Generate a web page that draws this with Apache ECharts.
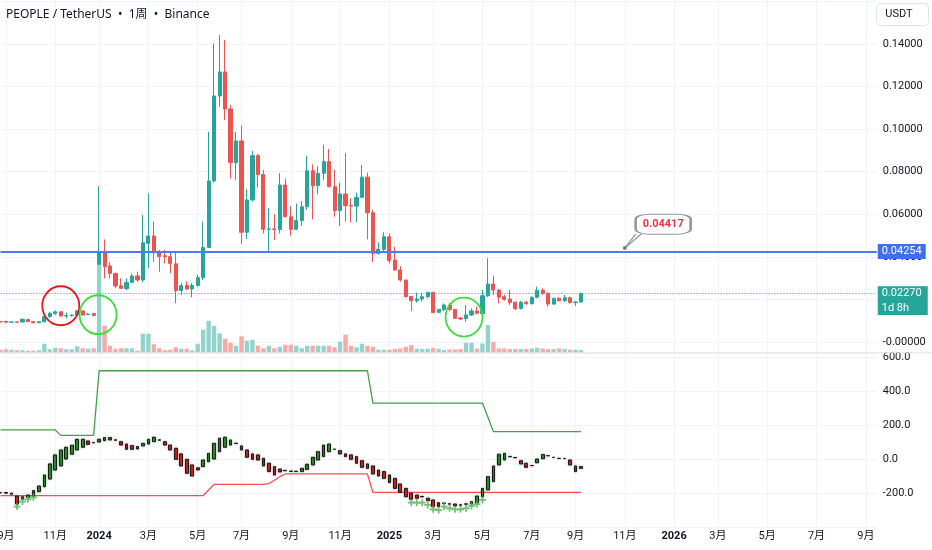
<!DOCTYPE html>
<html><head><meta charset="utf-8">
<script src="https://cdn.jsdelivr.net/npm/echarts/dist/echarts.min.js"></script>
<style>html,body{margin:0;padding:0;background:#fff}#c{width:932px;height:550px}</style>
</head><body><div id="c"></div>
<script>
// ---------- data ----------
const weekCount = 161; // weekly categories starting Monday 2023-08-28
const categories = [];
for (let i = 0; i < weekCount; i++) {
  categories.push(new Date(Date.UTC(2023, 7, 28 + 7 * i)).toISOString().slice(0, 10));
}
const priceOpen = [0.0096,0.0097,0.0093,0.0094,0.0094,0.0106,0.0096,0.0090,0.0095,0.0119,
0.0133,0.0142,0.0122,0.0124,0.0127,0.0146,0.0129,0.0134,0.0125,0.0424,
0.0357,0.0322,0.0264,0.0250,0.0280,0.0310,0.0291,0.0463,0.0498,0.0419,
0.0405,0.0401,0.0367,0.0241,0.0265,0.0249,0.0265,0.0302,0.0444,0.0756,
0.1155,0.1268,0.1094,0.0842,0.0944,0.0515,0.0667,0.0875,0.0786,0.0529,
0.0531,0.0528,0.0737,0.0588,0.0529,0.0570,0.0635,0.0804,0.0734,0.0792,
0.0847,0.0729,0.0617,0.0695,0.0641,0.0638,0.0679,0.0774,0.0607,0.0416,
0.0435,0.0494,0.0385,0.0338,0.0291,0.0214,0.0194,0.0202,0.0213,0.0233,
0.0139,0.0153,0.0174,0.0153,0.0113,0.0110,0.0127,0.0146,0.0133,0.0217,
0.0272,0.0244,0.0213,0.0202,0.0187,0.0157,0.0187,0.0180,0.0210,0.0243,
0.0229,0.0178,0.0205,0.0194,0.0208,0.0185,0.0188];
const priceClose = [0.0095,0.0093,0.0094,0.0093,0.0107,0.0096,0.0090,0.0095,0.0119,0.0135,
0.0142,0.0122,0.0125,0.0126,0.0146,0.0127,0.0131,0.0125,0.0424,0.0354,
0.0322,0.0263,0.0252,0.0280,0.0310,0.0291,0.0466,0.0498,0.0419,0.0401,
0.0401,0.0369,0.0241,0.0265,0.0249,0.0265,0.0302,0.0444,0.0756,0.1155,
0.1268,0.1094,0.0842,0.0944,0.0515,0.0667,0.0875,0.0786,0.0529,0.0531,
0.0528,0.0737,0.0588,0.0529,0.0570,0.0635,0.0804,0.0734,0.0792,0.0847,
0.0729,0.0617,0.0695,0.0640,0.0638,0.0679,0.0774,0.0607,0.0416,0.0435,
0.0494,0.0382,0.0338,0.0291,0.0213,0.0194,0.0202,0.0213,0.0233,0.0138,
0.0153,0.0174,0.0153,0.0111,0.0108,0.0127,0.0146,0.0135,0.0217,0.0272,
0.0244,0.0210,0.0200,0.0185,0.0157,0.0187,0.0180,0.0210,0.0243,0.0229,
0.0178,0.0205,0.0194,0.0208,0.0185,0.0188,0.0227];
const priceLow = [0.0093,0.0091,0.0091,0.0091,0.0092,0.0094,0.0088,0.0089,0.0093,0.0114,
0.0128,0.0120,0.0111,0.0119,0.0125,0.0124,0.0127,0.0119,0.0113,0.0299,
0.0299,0.0252,0.0249,0.0244,0.0276,0.0284,0.0280,0.0346,0.0377,0.0330,
0.0369,0.0322,0.0182,0.0221,0.0244,0.0210,0.0260,0.0291,0.0440,0.0749,
0.1105,0.1042,0.0768,0.0761,0.0460,0.0484,0.0659,0.0726,0.0510,0.0428,
0.0479,0.0510,0.0585,0.0500,0.0525,0.0545,0.0620,0.0576,0.0693,0.0761,
0.0727,0.0588,0.0545,0.0565,0.0561,0.0563,0.0675,0.0482,0.0374,0.0411,
0.0425,0.0369,0.0335,0.0283,0.0208,0.0146,0.0185,0.0190,0.0205,0.0135,
0.0137,0.0145,0.0145,0.0108,0.0103,0.0095,0.0122,0.0130,0.0130,0.0211,
0.0221,0.0181,0.0194,0.0174,0.0150,0.0153,0.0175,0.0176,0.0205,0.0222,
0.0166,0.0175,0.0190,0.0188,0.0180,0.0169,0.0185];
const priceHigh = [0.0098,0.0099,0.0096,0.0096,0.0109,0.0108,0.0097,0.0097,0.0121,0.0142,
0.0148,0.0145,0.0138,0.0131,0.0150,0.0148,0.0136,0.0135,0.0732,0.0482,
0.0374,0.0325,0.0299,0.0299,0.0322,0.0330,0.0596,0.0698,0.0565,0.0432,
0.0432,0.0419,0.0419,0.0277,0.0285,0.0277,0.0315,0.0565,0.0987,0.1402,
0.1441,0.1418,0.1113,0.0987,0.1016,0.0717,0.0897,0.0883,0.0808,0.0628,
0.0600,0.0793,0.0768,0.0638,0.0650,0.0662,0.0873,0.0834,0.0826,0.0925,
0.0906,0.0808,0.0748,0.0886,0.0675,0.0701,0.0831,0.0795,0.0620,0.0468,
0.0515,0.0510,0.0447,0.0357,0.0293,0.0215,0.0232,0.0230,0.0235,0.0235,
0.0155,0.0181,0.0183,0.0155,0.0117,0.0174,0.0158,0.0166,0.0244,0.0393,
0.0311,0.0247,0.0221,0.0244,0.0190,0.0192,0.0192,0.0214,0.0260,0.0252,
0.0233,0.0208,0.0210,0.0221,0.0213,0.0192,0.0232];
const volume = [3,3.5,3,2.5,2.5,2,2,2.5,9,3.5,
5,4.5,3.5,3.5,6.5,4.5,4,4.5,88,27,
7,4,4.5,4.5,4.5,2,19,19,8.5,4.5,
2.5,3,5.5,4,4,2.5,9,23,32,27,
19.5,14,10,7,16.5,12,13,7,4.5,7,
4.5,6,8,8,7,4.5,7,7,7,7,
7,5.5,11,18,7,5.5,9,7,6,3,
3,3,3.7,4.3,6,7.7,4,3.7,4,4.7,
4,2.7,3.3,3.3,3.7,10,10,4.3,9.3,27.7,
11,4.3,4.3,3.7,3.7,3.7,3.7,4.3,5,4.3,
3.7,3.7,4.3,3.7,3,3,2.7];
const oscOpen = [-199,-197,-201,-218,-237,-225,-218,-192,-163,-118,
-65,-41,0,28,53,69,106,97,100,108,
112,113,102,88,79,73,77,88,102,113,
102,82,63,30,-2,-35,-52,-45,-16,0,
43,69,82,93,77,53,30,24,4,-25,
-45,-59,-67,-71,-72,-74,-61,-35,-6,14,
43,58,49,30,24,14,-10,-29,-41,-65,
-74,-94,-114,-147,-173,-202,-212,-220,-231,-241,
-257,-259,-263,-265,-269,-266,-265,-257,-222,-182,
-133,-35,-6,15,9,-10,-25,-38,-22,2,
20,10,4,3,-6,-41,-45];
const oscClose = [-197,-201,-207,-265,-222,-212,-186,-159,-94,-29,
24,53,69,81,116,116,86,95,116,126,
126,110,82,57,57,59,92,116,128,110,
82,53,-2,-41,-84,-100,-64,-6,33,92,
122,128,112,91,53,10,-2,-6,-41,-74,
-94,-76,-69,-73,-74,-55,-31,10,43,82,
88,57,30,14,-2,-25,-49,-55,-88,-100,
-114,-139,-173,-196,-222,-237,-231,-223,-245,-280,
-280,-262,-266,-276,-272,-264,-251,-218,-173,-104,
-41,28,33,13,7,-29,-49,-39,0,26,
19,9,3,2,-35,-74,-55];
const upperBand = [171,171,171,171,171,171,171,171,171,171,
171,139,139,139,139,139,139,139,519,519,
519,519,519,519,519,519,519,519,519,519,
519,519,519,519,519,519,519,519,519,519,
519,519,519,519,519,519,519,519,519,519,
519,519,519,519,519,519,519,519,519,519,
519,519,519,519,519,519,519,519,329,329,
329,329,329,329,329,329,329,329,329,329,
329,329,329,329,329,329,329,329,329,245,
161,161,161,161,161,161,161,161,161,161,
161,161,161,161,161,161,161];
const lowerBand = [-216,-216,-216,-216,-216,-216,-216,-216,-216,-216,
-216,-216,-216,-216,-216,-216,-216,-216,-216,-216,
-216,-216,-216,-216,-216,-216,-216,-216,-216,-216,
-216,-216,-216,-216,-216,-216,-216,-216,-182,-149,
-149,-149,-149,-149,-149,-149,-149,-149,-149,-145,
-125,-104,-88,-88,-88,-88,-88,-88,-88,-88,
-88,-88,-88,-88,-88,-88,-88,-88,-196,-196,
-196,-196,-196,-196,-196,-196,-196,-196,-196,-196,
-196,-196,-196,-196,-196,-196,-196,-196,-196,-196,
-196,-196,-196,-196,-196,-196,-196,-196,-196,-196,
-196,-196,-196,-196,-196,-196,-196];
const plusIdx = [3,4,5,6,75,76,77,78,79,80,81,82,83,84,85,86,87,88];
const plusVal = [-280,-251,-237,-225,-257,-257,-257,-270,-296,-300,-280,-290,-296,-296,-290,-276,-265,-241];
const keyLevel = 0.04254;
const lastPrice = 0.02270;
const countdownText = '1d 8h';
const calloutValue = 0.04417;
const priceTicks = { min: 0, max: 0.16, step: 0.02 };
const oscTicks = { min: -400, max: 625, step: 200 };

// ---------- chart ----------
const FONT = 'Roboto, "Noto Sans CJK SC", sans-serif';
const TXT = '#131722';
const GRIDC = '#f0f3fa';
const priceData = priceOpen.map((o, i) => [o, priceClose[i], priceLow[i], priceHigh[i]]);
const volData = volume.map((v, i) => ({ value: v, itemStyle: { color: priceClose[i] >= priceOpen[i] ? '#93d3cd' : '#f7aaa8' } }));
const oscData = oscOpen.map((o, i) => [o, oscClose[i], Math.min(o, oscClose[i]), Math.max(o, oscClose[i])]);
const plusData = plusIdx.map((k, j) => [categories[k], plusVal[j]]);

function isMonthTick(idx, val) {
  const d = new Date(val + 'T00:00:00Z');
  return d.getUTCDate() <= 7 && d.getUTCMonth() % 2 === 0;
}
function fmtLabel(val) {
  const d = new Date(val + 'T00:00:00Z');
  const m = d.getUTCMonth() + 1;
  return m === 1 ? '{y|' + d.getUTCFullYear() + '}' : m + '月';
}
function xAx(gi, showLabel) {
  return {
    type: 'category', gridIndex: gi, data: categories, boundaryGap: false,
    axisLine: { show: false }, axisTick: { show: false },
    axisLabel: { show: showLabel, interval: isMonthTick, formatter: fmtLabel, margin: 4,
      color: TXT, fontSize: 11, fontFamily: FONT,
      rich: { y: { fontWeight: 'bold', fontSize: 11, color: TXT, fontFamily: FONT } } },
    splitLine: { show: true, interval: isMonthTick, lineStyle: { color: GRIDC, width: 1 } }
  };
}
const gL = 0.54, gR = 55.26;
const tagLabel = (txt, bg, extra) => Object.assign({
  show: true, position: 'end', distance: 1, formatter: txt, color: '#fff',
  backgroundColor: bg, padding: [1, 4], lineHeight: 13, fontSize: 11, fontFamily: FONT
}, extra || {});

const option = {
  animation: false,
  backgroundColor: '#ffffff',
  grid: [
    { left: gL, right: gR, top: 1.2, height: 340.8, containLabel: false, outerBoundsMode: 'none' },
    { left: gL, right: gR, top: 252.75, height: 100, containLabel: false, outerBoundsMode: 'none' },
    { left: gL, right: gR, top: 352.75, height: 174.25, containLabel: false, outerBoundsMode: 'none' }
  ],
  xAxis: [xAx(0, false), xAx(1, false), xAx(2, true)],
  yAxis: [
    { type: 'value', gridIndex: 0, position: 'right', min: priceTicks.min, max: priceTicks.max, interval: priceTicks.step,
      axisLine: { show: false }, axisTick: { show: false },
      axisLabel: { showMaxLabel: false, margin: 6, color: TXT, fontSize: 11, fontFamily: FONT,
        formatter: v => (Math.abs(v) < 1e-9 ? '-0.00000' : v.toFixed(5)) },
      splitLine: { lineStyle: { color: GRIDC } } },
    { type: 'value', gridIndex: 1, min: 0, max: 100, show: false, splitLine: { show: false } },
    { type: 'value', gridIndex: 2, position: 'right', min: oscTicks.min, max: oscTicks.max, interval: oscTicks.step,
      axisLine: { show: false }, axisTick: { show: false },
      axisLabel: { showMinLabel: false, showMaxLabel: false, margin: 6, color: TXT, fontSize: 11, fontFamily: FONT,
        formatter: v => v.toFixed(1) },
      splitLine: { lineStyle: { color: GRIDC } } }
  ],
  series: [
    {
      name: 'PEOPLEUSDT', type: 'candlestick', xAxisIndex: 0, yAxisIndex: 0, z: 2,
      data: priceData, barWidth: '66%',
      itemStyle: { color: '#26a69a', color0: '#ef5350', borderColor: '#26a69a', borderColor0: '#ef5350', borderWidth: 1 },
      markLine: {
        silent: true, symbol: ['none', 'none'], animation: false, precision: 8,
        data: [
          { yAxis: keyLevel, lineStyle: { color: '#4a7df0', width: 2, type: 'solid' },
            label: tagLabel(keyLevel.toFixed(5), '#3d6ff0') },
          { yAxis: lastPrice, lineStyle: { color: '#26a69a', width: 1, type: [1, 2] },
            label: tagLabel(lastPrice.toFixed(5), '#26a69a', { width: 42 }) },
          { yAxis: lastPrice - 0.0067, lineStyle: { color: 'rgba(0,0,0,0)', width: 0 },
            label: tagLabel(countdownText, '#26a69a', { width: 42, padding: [0, 4, 1, 4] }) },
          [ { coord: [categories[114], calloutValue], lineStyle: { color: '#8f929b', width: 1.2, type: 'solid' }, label: { show: false } },
            { coord: [categories[116], 0.0507] } ],
          [ { coord: [categories[114], calloutValue], lineStyle: { color: '#8f929b', width: 1.2, type: 'solid' }, label: { show: false } },
            { coord: [categories[117], 0.0507] } ]
        ]
      },
      markPoint: {
        silent: true, animation: false,
        data: [
          { coord: [categories[11], 0.0170], symbol: 'circle', symbolSize: [37, 39],
            itemStyle: { color: 'rgba(0,0,0,0)', borderColor: '#e8141c', borderWidth: 1.8 }, label: { show: false } },
          { coord: [categories[18], 0.0128], symbol: 'circle', symbolSize: [37, 39], symbolOffset: [-1, 0],
            itemStyle: { color: 'rgba(0,0,0,0)', borderColor: '#3ddc3d', borderWidth: 1.8 }, label: { show: false } },
          { coord: [categories[85], 0.0117], symbol: 'circle', symbolSize: [37, 39], symbolOffset: [-2, 0],
            itemStyle: { color: 'rgba(0,0,0,0)', borderColor: '#3ddc3d', borderWidth: 1.8 }, label: { show: false } },
          { coord: [categories[114], calloutValue], symbol: 'circle', symbolSize: 4,
            itemStyle: { color: '#787b86' }, label: { show: false } },
          { coord: [categories[121], 0.0553], symbol: 'roundRect', symbolSize: [55, 20],
            itemStyle: { color: '#ffffff', borderColor: '#8f929b', borderWidth: 1.5 },
            label: { show: true, position: 'inside', formatter: calloutValue.toFixed(5), color: '#f23645',
              fontWeight: 'bold', fontSize: 11, fontFamily: FONT } }
        ]
      }
    },
    {
      name: 'Volume', type: 'bar', xAxisIndex: 1, yAxisIndex: 1, z: 3,
      data: volData, barWidth: '80%'
    },
    {
      name: 'Upper', type: 'line', xAxisIndex: 2, yAxisIndex: 2, z: 2, data: upperBand,
      showSymbol: false, symbol: 'none', lineStyle: { color: '#43a047', width: 1.3 }
    },
    {
      name: 'Lower', type: 'line', xAxisIndex: 2, yAxisIndex: 2, z: 2, data: lowerBand,
      showSymbol: false, symbol: 'none', lineStyle: { color: '#ff4d4d', width: 1.3 }
    },
    {
      name: 'Osc', type: 'candlestick', xAxisIndex: 2, yAxisIndex: 2, z: 3,
      data: oscData, barWidth: '58%',
      itemStyle: { color: '#1f9e1f', color0: '#e21f1f', borderColor: '#1c1c1c', borderColor0: '#1c1c1c',
        borderWidth: 1, shadowBlur: 2, shadowColor: 'rgba(0,0,0,0.35)' }
    },
    {
      name: 'Signal', type: 'scatter', xAxisIndex: 2, yAxisIndex: 2, z: 4, data: plusData,
      symbol: 'path://M3,0H5V3H8V5H5V8H3V5H0V3H3Z', symbolSize: 7, itemStyle: { color: '#4caf50' }
    }
  ],
  graphic: [
    { type: 'text', left: 6, top: 9, z: 10,
      style: { text: 'PEOPLE / TetherUS  •  1周  •  Binance', fill: TXT, font: '12px "Noto Sans", "Noto Sans CJK SC", sans-serif' } },
    { type: 'rect', z: 10, shape: { x: 876.5, y: 3.5, width: 52, height: 22, r: 4 },
      style: { fill: '#ffffff', stroke: '#e0e3eb', lineWidth: 1 } },
    { type: 'text', z: 11, x: 899, y: 14.5,
      style: { text: 'USDT', fill: TXT, font: '11px Roboto', align: 'center', verticalAlign: 'middle' } },
    { type: 'line', z: 10, shape: { x1: 0, y1: 352.75, x2: 932, y2: 352.75 },
      style: { stroke: '#e0e3eb', lineWidth: 1 } }
  ]
};
const chart = echarts.init(document.getElementById('c'));
chart.setOption(option);
</script></body></html>
